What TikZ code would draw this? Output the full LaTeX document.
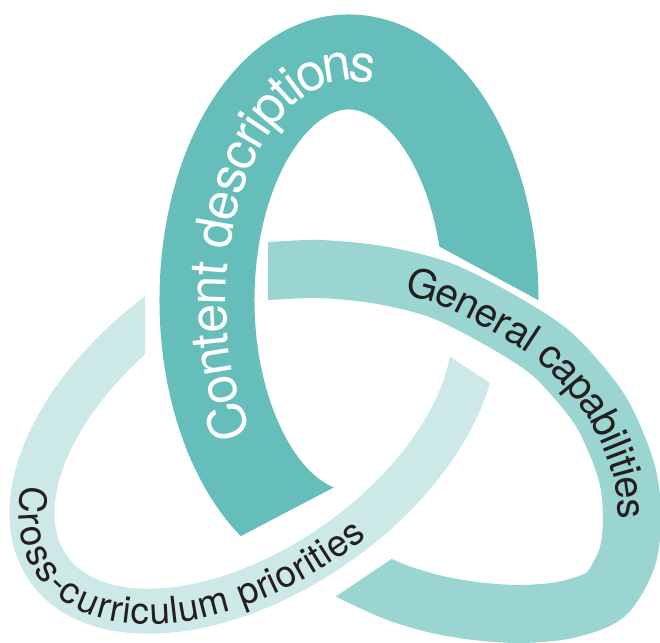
\documentclass[tikz,border=0pt]{standalone}
\usepackage{fontspec}
\setmainfont{TeX Gyre Heros}
\usetikzlibrary{decorations.text}
\definecolor{cdteal}{HTML}{66BEBA}
\definecolor{gcteal}{HTML}{9BD5D1}
\definecolor{ccpteal}{HTML}{CDE9E7}
\definecolor{inkblack}{HTML}{231F20}
\newcommand\cdfont{\fontsize{52}{60}\selectfont}
\newcommand\gcfont{\fontsize{40}{48}\selectfont}
\newcommand\ccpfont{\fontsize{37}{44}\selectfont}
\tikzset{
  cdband/.style={draw=cdteal, line width=95pt},
  gcband/.style={draw=gcteal, line width=58pt},
  ccpband/.style={draw=ccpteal, line width=45pt},
  ringtext/.style={decorate, decoration={text along path, text align=left, #1}}
}

\begin{document}
\begin{tikzpicture}[x=1pt,y=1pt]
\useasboundingbox (0,0) rectangle (660,-642);
\coordinate (cd) at (349,-300);
\coordinate (ccp) at (253,-425);
% cross-curriculum priorities ring
\begin{scope}
\clip (-100,100) -- (145,100) -- (145,-420) -- (300,-420) -- (300,100) -- (400,100)
  -- (400,-323.8) -- (800,-587) -- (800,-800) -- (-100,-800) -- cycle;
\begin{scope}[shift={(ccp)}, rotate=35]
\draw[ccpband] (80:250 and 145) arc[start angle=80, end angle=345, x radius=250, y radius=145];
\end{scope}
\end{scope}
% general capabilities ring
\begin{scope}
\clip (268,100) -- (800,100) -- (800,-800) -- (33,-800) -- (420,-539.9) -- (420,-400)
  -- (268,-400) -- cycle;
\draw[gcband] plot[smooth] coordinates {(225,-273) (268,-271) (320,-269) (380,-275)
  (440,-290) (500,-320) (553,-355) (600,-410) (626,-470) (632,-516) (627,-558)
  (605,-595) (565,-610) (520,-614) (475,-611) (435,-604) (398,-593) (364,-578) (332,-562)};
\end{scope}
% content descriptions ring
\begin{scope}
\clip (-100,-714.3) -- (800,-243.6) -- (800,100) -- (-100,100) -- cycle;
\clip (-100,100) -- (800,100) -- (800,-441.9) -- (400,-225.2) -- (400,-800) -- (-100,-800) -- cycle;
\draw[cdband] (cd) ++(260:142 and 238) arc[start angle=260, end angle=-15, x radius=142, y radius=238];
\end{scope}
% labels
\path[ringtext={text=|\cdfont|Content descriptions, text color=white, raise=-19pt}]
  (cd) ++(216:142 and 238) arc[start angle=216, end angle=40, x radius=142, y radius=238];
\path[ringtext={text=|\gcfont|General capabilities, text color=inkblack, raise=-14pt}]
  plot[smooth] coordinates {(408,-281) (440,-290) (500,-320) (553,-355) (600,-410)
  (626,-470) (632,-516) (627,-558) (605,-595)};
\begin{scope}[shift={(ccp)}, rotate=35]
\path[ringtext={text=|\ccpfont|Cross-curriculum priorities, text color=inkblack, raise=-13pt}]
  (149:250 and 145) arc[start angle=149, end angle=300, x radius=250, y radius=145];
\end{scope}
\end{tikzpicture}
\end{document}
